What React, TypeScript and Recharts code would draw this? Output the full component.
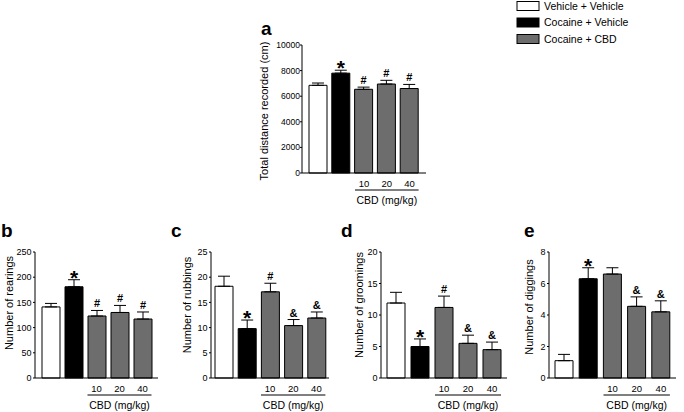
import React from 'react';
import { BarChart, Bar, Cell, XAxis, YAxis, ErrorBar, LabelList } from 'recharts';

const categories = ['Vehicle + Vehicle', 'Cocaine + Vehicle', 'CBD 10', 'CBD 20', 'CBD 40'];
const doseTicks = ['', '', '10', '20', '40'];
const legendGroups = ['Vehicle + Vehicle', 'Cocaine + Vehicle', 'Cocaine + CBD'];
const groupColors = ['#ffffff', '#000000', '#6d6d6d'];
const barGroup = [0, 1, 2, 2, 2];

const distanceMean = [6850, 7800, 6540, 6950, 6600];
const distanceSem = [180, 230, 170, 290, 320];
const distanceSig = ['', '*', '#', '#', '#'];
const distanceTicks = [0, 2000, 4000, 6000, 8000, 10000];

const rearingMean = [141, 181, 123, 130, 117];
const rearingSem = [7, 14, 11, 14, 14];
const rearingSig = ['', '*', '#', '#', '#'];
const rearingTicks = [0, 50, 100, 150, 200, 250];

const rubbingMean = [18.2, 9.8, 17.1, 10.4, 11.9];
const rubbingSem = [2.0, 1.7, 1.7, 1.2, 1.2];
const rubbingSig = ['', '*', '#', '&', '&'];
const rubbingTicks = [0, 5, 10, 15, 20, 25];

const groomingMean = [11.9, 5.0, 11.2, 5.5, 4.5];
const groomingSem = [1.7, 1.2, 1.8, 1.3, 1.2];
const groomingSig = ['', '*', '#', '&', '&'];
const groomingTicks = [0, 5, 10, 15, 20];

const diggingMean = [1.1, 6.3, 6.6, 4.55, 4.2];
const diggingSem = [0.4, 0.7, 0.4, 0.6, 0.7];
const diggingSig = ['', '*', '', '&', '&'];
const diggingTicks = [0, 2, 4, 6, 8];

const FONT = '"Liberation Sans", Arial, sans-serif';
const BAR_SIZE = 18;

const DoseTick = (props: any) => {
  const { x, y, index, band } = props;
  const label = doseTicks[index] ?? '';
  const half = 1.5 * band - (band - BAR_SIZE) / 2;
  return (
    <g>
      {label && (
        <text x={x} y={y + 14} textAnchor="middle" fontSize={9.5} fontFamily={FONT} fill="#000">
          {label}
        </text>
      )}
      {index === 3 && (
        <g>
          <line x1={x - half} x2={x + half} y1={y + 17} y2={y + 17} stroke="#000" strokeWidth={1} />
          <text x={x} y={y + 30.5} textAnchor="middle" fontSize={10.5} fontFamily={FONT} fill="#000">
            CBD (mg/kg)
          </text>
        </g>
      )}
    </g>
  );
};

const SigLabel = (props: any) => {
  const { x, y, width, height, value, index, mean, sem } = props;
  if (!value) return null;
  const errPx = (Number(height) * sem[index]) / mean[index];
  const top = Number(y) - errPx;
  const cx = Number(x) + Number(width) / 2;
  const star = value === '*';
  return (
    <text
      x={cx}
      y={star ? top + 5 : top - 3}
      textAnchor="middle"
      fontSize={star ? 21 : 11}
      fontWeight="bold"
      fontFamily={FONT}
      fill="#000"
    >
      {value}
    </text>
  );
};

const YLabel = (props: any) => {
  const { lx, ly, text } = props;
  return (
    <text
      x={lx}
      y={ly}
      transform={`rotate(-90 ${lx} ${ly})`}
      textAnchor="middle"
      dominantBaseline="central"
      fontSize={11}
      fontFamily={FONT}
      fill="#000"
    >
      {text}
    </text>
  );
};

type PanelProps = {
  yLabel: string;
  mean: number[];
  sem: number[];
  sig: string[];
  ticks: number[];
  plotX: number;
  plotY: number;
  plotW: number;
  plotH: number;
  leftSpace: number;
  labelGap: number;
  labelShift: number;
  pad: number;
  tickFont: number;
  tickMargin: number;
};

const Panel = ({ yLabel, mean, sem, sig, ticks, plotX, plotY, plotW, plotH, leftSpace, labelGap, labelShift, pad, tickFont, tickMargin }: PanelProps) => {
  const top = 10;
  const xh = 40;
  const right = 4;
  const data = categories.map((name, i) => ({
    name,
    value: mean[i],
    errRange: [0, sem[i]],
    mark: sig[i],
  }));
  const band = (plotW - 2 * pad) / categories.length;
  return (
    <div style={{ position: 'absolute', left: plotX - leftSpace, top: plotY - top }}>
      <BarChart
        width={leftSpace + plotW + right}
        height={top + plotH + xh}
        data={data}
        margin={{ top, right, left: 0, bottom: 0 }}
        barSize={BAR_SIZE}
      >
        <XAxis
          dataKey="name"
          height={xh}
          padding={{ left: pad, right: pad }}
          axisLine={{ stroke: '#000' }}
          tickLine={false}
          tickSize={0}
          tickMargin={0}
          interval={0}
          tick={<DoseTick band={band} />}
        />
        <YAxis
          width={leftSpace}
          domain={[0, ticks[ticks.length - 1]]}
          ticks={ticks}
          interval={0}
          axisLine={{ stroke: '#000' }}
          tickLine={{ stroke: '#000' }}
          tickSize={2}
          tickMargin={tickMargin}
          tick={{ fontSize: tickFont, fontFamily: FONT, fill: '#000' }}
          label={<YLabel lx={leftSpace - labelGap} ly={top + plotH / 2 + labelShift} text={yLabel} />}
        />
        <Bar dataKey="value" isAnimationActive={false} stroke="#000" strokeWidth={1}>
          {data.map((d, i) => (
            <Cell key={d.name} fill={groupColors[barGroup[i]]} />
          ))}
          <ErrorBar dataKey="errRange" direction="y" width={6} stroke="#000" strokeWidth={1} />
          <LabelList dataKey="mark" content={<SigLabel mean={mean} sem={sem} />} />
        </Bar>
      </BarChart>
    </div>
  );
};

const letters = [
  { t: 'a', x: 261, y: 35 },
  { t: 'b', x: 1, y: 237 },
  { t: 'c', x: 171, y: 237 },
  { t: 'd', x: 341, y: 237 },
  { t: 'e', x: 524, y: 237 },
];

export default function App() {
  return (
    <div style={{ position: 'absolute', left: 0, top: 0, width: 684, height: 412, background: '#fff', overflow: 'hidden' }}>
      <Panel yLabel="Total distance recorded (cm)" mean={distanceMean} sem={distanceSem} sig={distanceSig} ticks={distanceTicks}
        plotX={302} plotY={45} plotW={124} plotH={128} leftSpace={45} labelGap={38} labelShift={2} pad={5} tickFont={8.5} tickMargin={0} />
      <Panel yLabel="Number of rearings" mean={rearingMean} sem={rearingSem} sig={rearingSig} ticks={rearingTicks}
        plotX={35} plotY={252} plotW={123} plotH={126} leftSpace={40} labelGap={26} labelShift={-12} pad={4} tickFont={9} tickMargin={1.5} />
      <Panel yLabel="Number of rubbings" mean={rubbingMean} sem={rubbingSem} sig={rubbingSig} ticks={rubbingTicks}
        plotX={211} plotY={252} plotW={118} plotH={126} leftSpace={40} labelGap={24} labelShift={-10} pad={1} tickFont={9} tickMargin={1.5} />
      <Panel yLabel="Number of groomings" mean={groomingMean} sem={groomingSem} sig={groomingSig} ticks={groomingTicks}
        plotX={381} plotY={252} plotW={126} plotH={126} leftSpace={40} labelGap={22.5} labelShift={-10} pad={3} tickFont={9} tickMargin={1.5} />
      <Panel yLabel="Number of diggings" mean={diggingMean} sem={diggingSem} sig={diggingSig} ticks={diggingTicks}
        plotX={549} plotY={252} plotW={127} plotH={126} leftSpace={40} labelGap={20.5} labelShift={-8} pad={3} tickFont={9} tickMargin={1.5} />
      <svg width={684} height={412} style={{ position: 'absolute', left: 0, top: 0, pointerEvents: 'none' }}>
        {letters.map((l) => (
          <text key={l.t} x={l.x} y={l.y} fontSize={19} fontWeight="bold" fontFamily={FONT} fill="#000">
            {l.t}
          </text>
        ))}
        {legendGroups.map((g, i) => (
          <g key={g}>
            <rect x={517} y={1.5 + i * 16.5} width={22} height={9} fill={groupColors[i]} stroke="#000" strokeWidth={1} />
            <text x={544} y={9.8 + i * 16.5} fontSize={10.5} fontFamily={FONT} fill="#000">
              {g}
            </text>
          </g>
        ))}
      </svg>
    </div>
  );
}
